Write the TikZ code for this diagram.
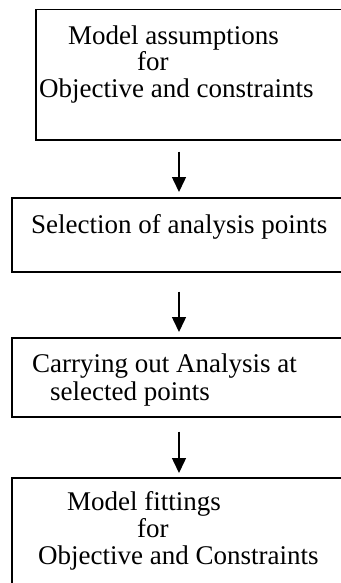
\documentclass[tikz,border=0pt]{standalone}
\usepackage{fontspec}
\setmainfont{Liberation Serif}
\usepackage{tikz}
\usetikzlibrary{arrows.meta, positioning}

\begin{document}
\begin{tikzpicture}[x=1pt, y=-1pt,
        stage/.style={draw, line width=1.5pt, anchor=north west, inner sep=0pt},
        label/.style={anchor=base west, inner sep=0pt, font=\fontsize{27}{30}\selectfont},
        flow/.style={line width=1.5pt, -{Triangle[width=14pt, length=15pt]}}]
    \useasboundingbox (0,0) rectangle (340,583);
    % boxes run off the right (and last one off the bottom) edge
    \node[stage, minimum width=330pt, minimum height=130pt] (b1) at (35,9) {};
    \node[stage, minimum width=354pt, minimum height=74pt] (b2) at (11,197) {};
    \node[stage, minimum width=354pt, minimum height=79pt] (b3) at (11,337) {};
    \node[stage, minimum width=354pt, minimum height=130pt] (b4) at (11,477) {};
    \node[label] (t1a) at (68,45) {Model assumptions};
    \node[label] (t1b) at (137,71) {for};
    \node[label] (t1c) at (39,98) {Objective and constraints};
    \node[label] (t2a) at (31,233) {Selection of analysis points};
    \node[label] (t3a) at (32,372) {Carrying out Analysis at};
    \node[label] (t3b) at (50,400) {selected points};
    \node[label] (t4a) at (67,510) {Model fittings};
    \node[label] (t4b) at (137,537) {for};
    \node[label] (t4c) at (38,564) {Objective and Constraints};
    \coordinate (ax) at (179,0);
    \foreach \from/\to/\gapa/\gapb in {b1/b2/11/5, b2/b3/19/5, b3/b4/14/4}{
        \draw[flow, shorten <=\gapa pt, shorten >=\gapb pt] (\from.south -| ax) -- (\to.north -| ax);
    }
\end{tikzpicture}
\end{document}
